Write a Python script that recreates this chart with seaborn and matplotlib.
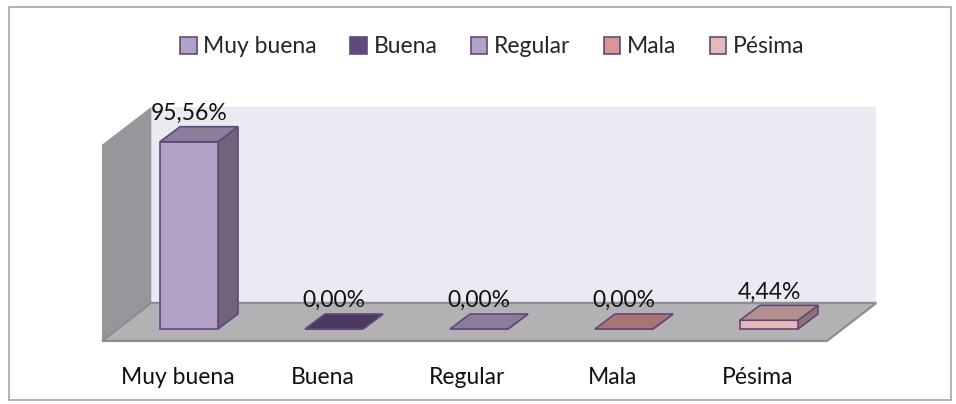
import matplotlib
matplotlib.use("Agg")
import matplotlib.pyplot as plt
import matplotlib.colors as mcolors
from matplotlib.patches import Polygon, Patch, Rectangle
import seaborn as sns
import pandas as pd

# data
categories = ["Muy buena", "Buena", "Regular", "Mala", "Pésima"]
values = [95.56, 0.00, 0.00, 0.00, 4.44]
value_labels = ["95,56%", "0,00%", "0,00%", "0,00%", "4,44%"]
colors = ["#B3A2C7", "#604A7B", "#B3A2C7", "#D99694", "#E6B9B8"]

df = pd.DataFrame({"cat": categories, "val": values})

sns.set_style("white")
plt.rcParams["font.family"] = ["Lato", "DejaVu Sans"]
FS = 16.5

fig = plt.figure(figsize=(9.56, 4.04), dpi=100)
ax = fig.add_axes([0, 0, 1, 1])

sns.barplot(data=df, x="cat", y="val", hue="cat", palette=colors, legend=False,
            width=0.4, edgecolor="#604A7B", linewidth=1.2, saturation=1,
            ax=ax, zorder=3)

# pixel-like mapping: 1 category = 145 px, 1% = 1.96 px
ax.set_xlim(-1.3034, 5.2897)
ax.set_ylim(-38.27, 167.86)
ax.axis("off")


def shade(c, f):
    r, g, b = mcolors.to_rgb(c)
    return (r * f, g * f, b * f)


# 3d box: walls and floor
fdx, fdy = 0.34, 19.4
fx0, fx1, fy = -0.6, 4.4, -6.1
ax.add_patch(Polygon([(fx0 + fdx, fy + fdy), (fx1 + fdx, fy + fdy),
                      (fx1 + fdx, 113.3), (fx0 + fdx, 113.3)],
                     closed=True, facecolor="#EBE9F1", edgecolor="none", zorder=0))
ax.add_patch(Polygon([(fx0, fy), (fx0, 94.0), (fx0 + fdx, 113.3), (fx0 + fdx, fy + fdy)],
                     closed=True, facecolor="#98969A", edgecolor="none", zorder=0))
ax.add_patch(Polygon([(fx0, fy), (fx1, fy), (fx1 + fdx, fy + fdy), (fx0 + fdx, fy + fdy)],
                     closed=True, facecolor="#B4B1B5", edgecolor="#8E8C90", lw=1.6, zorder=1))

# depth faces of the bars
bdx, bdy = 0.138, 7.65
for p, col in zip(ax.patches[:len(values)], colors):
    x0, y0 = p.get_x(), p.get_y()
    w, h = p.get_width(), p.get_height()
    top = [(x0, y0 + h), (x0 + w, y0 + h), (x0 + w + bdx, y0 + h + bdy), (x0 + bdx, y0 + h + bdy)]
    side = [(x0 + w, y0), (x0 + w + bdx, y0 + bdy), (x0 + w + bdx, y0 + h + bdy), (x0 + w, y0 + h)]
    ax.add_patch(Polygon(side, closed=True, facecolor=shade(col, 0.62),
                         edgecolor="#604A7B", lw=1.2, zorder=2))
    ax.add_patch(Polygon(top, closed=True, facecolor=shade(col, 0.78),
                         edgecolor="#604A7B", lw=1.2, zorder=4))

# value labels
for i, (v, lab) in enumerate(zip(values, value_labels)):
    ax.text(i, v + bdy + 1.5, lab, ha="center", va="bottom", fontsize=FS,
            color="#111111", zorder=5)

# category labels along the floor front
for i, c in enumerate(categories):
    ax.text(i - 0.08, -25.0, c, ha="center", va="center", fontsize=FS, color="#111111")

handles = [Patch(facecolor=c, edgecolor="#604A7B", lw=1.2) for c in colors]
ax.legend(handles, categories, loc="center", bbox_to_anchor=(0.515, 0.884),
          bbox_transform=fig.transFigure, ncol=5, frameon=False, fontsize=FS,
          handlelength=0.72, handleheight=0.72, handletextpad=0.3, columnspacing=1.45)

fig.patches.append(Rectangle((9 / 956, 4 / 404), 942 / 956, 393 / 404,
                             transform=fig.transFigure, fill=False,
                             edgecolor="#A6A6A6", lw=1.2))

fig.savefig("out.png", dpi=100, facecolor="white")
